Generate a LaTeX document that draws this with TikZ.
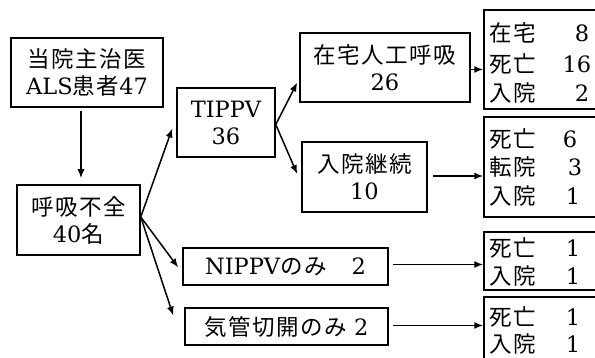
\documentclass[tikz,border=0pt]{standalone}
\usepackage{fontspec}
\setmainfont{DejaVu Serif}
\newfontfamily\jp[LetterSpace=7]{Noto Sans CJK JP}
\usetikzlibrary{arrows.meta,calc}
\begin{document}
\begin{tikzpicture}[x=1pt,y=-1pt,
  box/.style={draw,line width=1.5pt,rectangle,inner sep=0pt,align=center,font=\fontsize{22.5}{27}\selectfont},
  txt/.style={inner sep=0pt,font=\fontsize{22.5}{27}\selectfont},
  arr/.style={line width=1.5pt,-{Latex[length=9pt,width=7pt]}}]
\useasboundingbox (0,0) rectangle (595,358);
\fill[white] (0,0) rectangle (595,358);
\clip (0,0) rectangle (595,358);
% main boxes
\node[box,minimum width=152,minimum height=69] (A) at (87,72.5) {{\jp 当院主治医}\\ALS{\jp 患者}47};
\node[box,minimum width=123,minimum height=70] (B) at (78.5,220) {{\jp 呼吸不全}\\40{\jp 名}};
\node[box,minimum width=98,minimum height=69] (C) at (226,122.5) {TIPPV\\36};
\node[box,minimum width=170,minimum height=69] (D) at (385,67.5) {{\jp 在宅人工呼吸}\\26};
\node[box,minimum width=125,minimum height=70] (E) at (364.5,177) {{\jp 入院継続}\\10};
\node[box,minimum width=205,minimum height=37] (F) at (285.5,266.5) {NIPPV{\jp のみ}\hspace{1.1em}2};
\node[box,minimum width=203,minimum height=37] (G) at (286.5,326.5) {{\jp 気管切開のみ}\hspace{0.3em}2};
% result boxes
\node[box,minimum width=130,minimum height=99] (R1) at (549,59.5) {};
\node[box,minimum width=130,minimum height=100] (R2) at (549,167) {};
\node[box,minimum width=130,minimum height=58] (R3) at (549,261) {};
\node[box,minimum width=130,minimum height=80] (R4) at (549,337) {};
% result texts
\node[txt,anchor=west] (r1a) at (489,33) {\jp 在宅};
\node[txt] (r1an) at (582,33) {8};
\node[txt,anchor=west] (r1b) at (489,64) {\jp 死亡};
\node[txt] (r1bn) at (577,64) {16};
\node[txt,anchor=west] (r1c) at (489,93) {\jp 入院};
\node[txt] (r1cn) at (582,93) {2};
\node[txt,anchor=west] (r2a) at (489,139) {\jp 死亡};
\node[txt] (r2an) at (570,139) {6};
\node[txt,anchor=west] (r2b) at (489,167) {\jp 転院};
\node[txt] (r2bn) at (575,167) {3};
\node[txt,anchor=west] (r2c) at (489,196) {\jp 入院};
\node[txt] (r2cn) at (573,196) {1};
\node[txt,anchor=west] (r3a) at (489,248) {\jp 死亡};
\node[txt] (r3an) at (573,248) {1};
\node[txt,anchor=west] (r3b) at (489,276) {\jp 入院};
\node[txt] (r3bn) at (573,276) {1};
\node[txt,anchor=west] (r4a) at (489,317) {\jp 死亡};
\node[txt] (r4an) at (573,317) {1};
\node[txt,anchor=west] (r4b) at (489,344) {\jp 入院};
\node[txt] (r4bn) at (573,344) {1};
% connectors
\coordinate (a1) at ($(A.south)+(-6,3)$);
\coordinate (b1) at ($(B.north)+(2.5,-6)$);
\draw[arr] (a1) -- (b1);
\coordinate (bo) at ($(B.east)+(0,-3)$);
\coordinate (c1) at ($(C.west)+(-4,6)$);
\draw[arr] (bo) -- (c1);
\coordinate (f1) at ($(F.west)+(-4,1)$);
\draw[arr] (bo) -- (f1);
\coordinate (g1) at ($(G.west)+(-11,-11)$);
\draw[arr] (bo) -- (g1);
\coordinate (co) at ($(C.east)+(0,2)$);
\coordinate (d1) at ($(D.west)+(-2,15)$);
\draw[arr] (co) -- (d1);
\coordinate (e1) at ($(E.west)+(-4,-3)$);
\draw[arr] (co) -- (e1);
\coordinate (do) at ($(D.east)+(0,2)$);
\draw[arr] (do) -- (do -| R1.west);
\coordinate (eo) at ($(E.east)+(5,-1)$);
\draw[arr] (eo) -- (eo -| R2.west);
\coordinate (fo) at ($(F.east)+(4,-2)$);
\draw[arr] (fo) -- (fo -| R3.west);
\coordinate (go) at ($(G.east)+(4,-1)$);
\draw[arr] (go) -- (go -| R4.west);
\end{tikzpicture}
\end{document}
